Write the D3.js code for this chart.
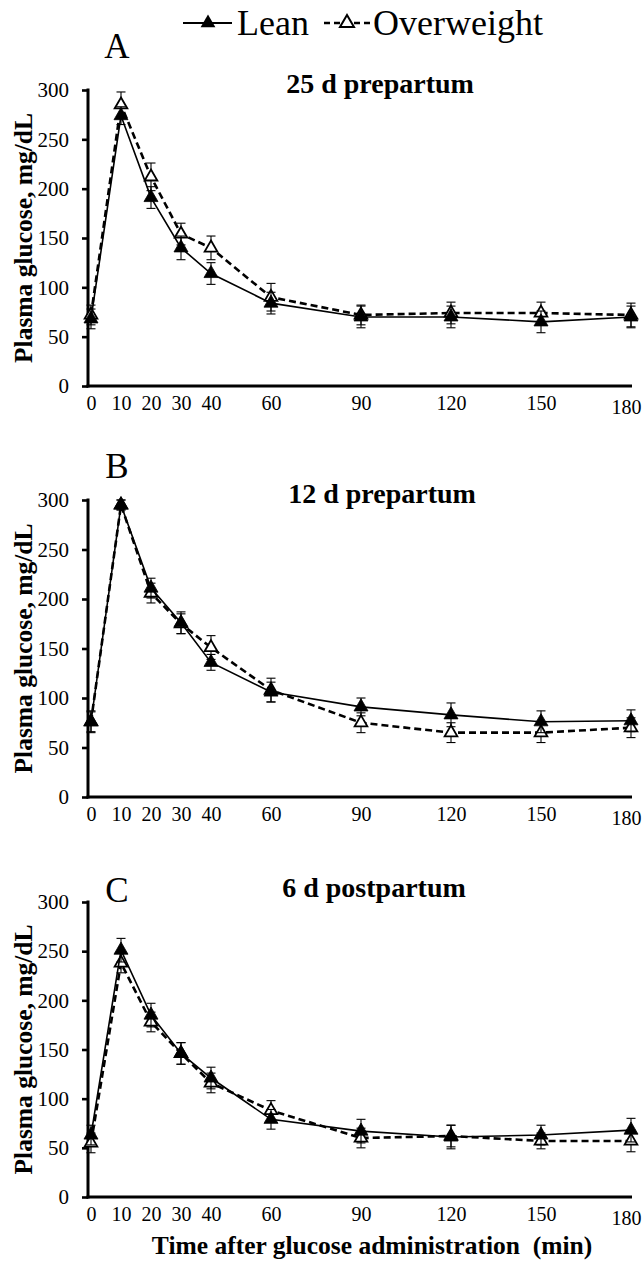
<!DOCTYPE html>
<html>
<head>
<meta charset="utf-8">
<script src="https://cdn.jsdelivr.net/npm/d3@7"></script>
<style>
  html, body { margin: 0; padding: 0; background: #fff; }
  svg { display: block; }
  text { font-family: "Liberation Serif", "Times New Roman", Times, serif; fill: #000; }
</style>
</head>
<body>
<svg id="chart" width="643" height="1262"></svg>
<script>
// Sampling times (min after glucose administration)
const times = [0, 10, 20, 30, 40, 60, 90, 120, 150, 180];
const timeTicks = [0, 10, 20, 30, 40, 60, 90, 120, 150, 180];
const glucoseTicks = [0, 50, 100, 150, 200, 250, 300];

const seriesNames = ["Lean", "Overweight"];
const panelLetters = ["A", "B", "C"];
const panelTitles = ["25 d prepartum", "12 d prepartum", "6 d postpartum"];

// Plasma glucose, mg/dL (mean and SE) — 25 d prepartum
const leanA   = [68, 274, 191, 140, 114, 84, 70, 70, 65, 70];
const leanASe = [10, 9, 11, 12, 11, 11, 11, 11, 11, 11];
const owA     = [72, 285, 212, 154, 140, 90, 72, 74, 74, 72];
const owASe   = [10, 13, 14, 11, 12, 14, 10, 11, 11, 12];

// 12 d prepartum
const leanB   = [76, 295, 211, 176, 136, 106, 91, 83, 76, 77];
const leanBSe = [11, 5, 10, 11, 8, 10, 9, 12, 11, 11];
const owB     = [76, 295, 206, 175, 151, 108, 75, 65, 65, 70];
const owBSe   = [10, 5, 10, 10, 12, 12, 10, 10, 10, 10];

// 6 d postpartum
const leanC   = [63, 251, 185, 146, 121, 79, 67, 61, 63, 68];
const leanCSe = [10, 12, 12, 11, 11, 10, 12, 12, 10, 12];
const owC     = [55, 238, 178, 146, 116, 88, 60, 62, 57, 57];
const owCSe   = [10, 10, 10, 11, 10, 10, 10, 11, 8, 11];

const panelData = [
  { lean: leanA, leanSe: leanASe, ow: owA, owSe: owASe },
  { lean: leanB, leanSe: leanBSe, ow: owB, owSe: owBSe },
  { lean: leanC, leanSe: leanCSe, ow: owC, owSe: owCSe }
];

// Vertical placement of the three stacked panels
const layout = [
  { top: 90,  bottom: 386,  letterY: 58,  titleX: 380, titleY: 93 },
  { top: 500, bottom: 797,  letterY: 478, titleX: 382, titleY: 503 },
  { top: 902, bottom: 1197, letterY: 902, titleX: 374, titleY: 897 }
];

const svg = d3.select("#chart");
const axisX0 = 88;
const x = d3.scaleLinear().domain([0, 180]).range([91, 631]);

const triangle = d3.symbol().type(d3.symbolTriangle);

function drawSeries(g, y, vals, ses, filled) {
  const pts = times.map((t, i) => ({ t, v: vals[i], se: ses[i] }));
  const line = d3.line().x(d => x(d.t)).y(d => y(d.v));
  g.append("path")
    .datum(pts)
    .attr("d", line)
    .attr("fill", "none")
    .attr("stroke", "#000")
    .attr("stroke-width", filled ? 1.6 : 2.6)
    .attr("stroke-dasharray", filled ? null : "7,4");

  const eb = g.append("g").attr("stroke", "#000").attr("stroke-width", 1.1);
  pts.forEach(d => {
    const cx = x(d.t);
    eb.append("line").attr("x1", cx).attr("x2", cx).attr("y1", y(d.v - d.se)).attr("y2", y(d.v + d.se));
    eb.append("line").attr("x1", cx - 4.5).attr("x2", cx + 4.5).attr("y1", y(d.v + d.se)).attr("y2", y(d.v + d.se));
    eb.append("line").attr("x1", cx - 4.5).attr("x2", cx + 4.5).attr("y1", y(d.v - d.se)).attr("y2", y(d.v - d.se));
  });

  g.append("g").selectAll("path")
    .data(pts)
    .join("path")
    .attr("transform", d => `translate(${x(d.t)},${y(d.v)})`)
    .attr("d", triangle.size(filled ? 85 : 70)())
    .attr("fill", filled ? "#000" : "#fff")
    .attr("stroke", "#000")
    .attr("stroke-width", filled ? 0.8 : 1.8);
}

layout.forEach((p, k) => {
  const y = d3.scaleLinear().domain([0, 300]).range([p.bottom, p.top]);
  const g = svg.append("g");

  // Y axis
  const ya = g.append("g")
    .attr("transform", `translate(${axisX0},0)`)
    .call(d3.axisLeft(y).tickValues(glucoseTicks).tickSize(6).tickPadding(13));
  ya.select(".domain").remove();
  ya.selectAll(".tick line").attr("stroke", "#000").attr("stroke-width", 2.6);
  ya.selectAll(".tick text")
    .style("font-family", '"Liberation Serif", "Times New Roman", serif')
    .style("font-size", "21px")
    .attr("fill", "#000");

  // X axis (last label sits a little lower and tucked in from the edge)
  const xa = g.append("g")
    .attr("transform", `translate(0,${p.bottom})`)
    .call(d3.axisBottom(x).tickValues(timeTicks).tickSize(0).tickPadding(10));
  xa.select(".domain").remove();
  xa.selectAll(".tick text")
    .style("font-family", '"Liberation Serif", "Times New Roman", serif')
    .style("font-size", "20px")
    .attr("fill", "#000")
    .attr("x", d => d === 180 ? -5 : 0)
    .attr("y", d => d === 180 ? 14 : 10);

  // Axis lines
  g.append("line").attr("x1", axisX0).attr("x2", axisX0)
    .attr("y1", p.top - 1.5).attr("y2", p.bottom + 1.5)
    .attr("stroke", "#000").attr("stroke-width", 3);
  g.append("line").attr("x1", axisX0 - 1.5).attr("x2", 632)
    .attr("y1", p.bottom).attr("y2", p.bottom)
    .attr("stroke", "#000").attr("stroke-width", 3);

  // Series: overweight beneath, lean on top
  const d = panelData[k];
  drawSeries(g, y, d.ow, d.owSe, false);
  drawSeries(g, y, d.lean, d.leanSe, true);

  // Panel letter and title
  g.append("text").attr("x", 117).attr("y", p.letterY)
    .attr("text-anchor", "middle").style("font-size", "35px")
    .text(panelLetters[k]);
  g.append("text").attr("x", p.titleX).attr("y", p.titleY)
    .attr("text-anchor", "middle").style("font-size", "28px").style("font-weight", "bold")
    .text(panelTitles[k]);

  // Y axis title
  const cy = (p.top + p.bottom) / 2;
  g.append("text")
    .attr("transform", `translate(32,${cy}) rotate(-90)`)
    .attr("text-anchor", "middle")
    .style("font-size", "25.5px").style("font-weight", "bold")
    .text("Plasma glucose, mg/dL");
});

// X axis title
svg.append("text")
  .attr("x", 372).attr("y", 1254)
  .attr("text-anchor", "middle")
  .style("font-size", "25.5px").style("font-weight", "bold")
  .style("white-space", "pre")
  .text("Time after glucose administration  (min)");

// Legend
const lg = svg.append("g");
lg.append("line").attr("x1", 183).attr("x2", 232).attr("y1", 23).attr("y2", 23)
  .attr("stroke", "#000").attr("stroke-width", 2);
lg.append("path").attr("transform", "translate(208,23)")
  .attr("d", triangle.size(95)()).attr("fill", "#000");
lg.append("text").attr("x", 237).attr("y", 35).style("font-size", "36px").text(seriesNames[0]);

lg.append("line").attr("x1", 324).attr("x2", 371).attr("y1", 23).attr("y2", 23)
  .attr("stroke", "#000").attr("stroke-width", 2.6).attr("stroke-dasharray", "6,4");
lg.append("path").attr("transform", "translate(347,23)")
  .attr("d", triangle.size(85)()).attr("fill", "#fff").attr("stroke", "#000").attr("stroke-width", 2);
lg.append("text").attr("x", 373).attr("y", 35).style("font-size", "36px").text(seriesNames[1]);
</script>
</body>
</html>
